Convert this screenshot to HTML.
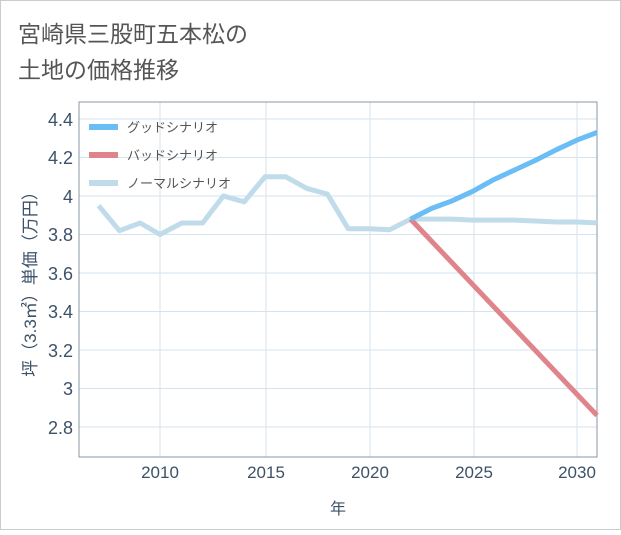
<!DOCTYPE html>
<html><head><meta charset="utf-8"><style>
body{margin:0;background:#fff;}
svg text{font-family:"Liberation Sans","Noto Sans CJK JP",sans-serif;}
</style></head><body>
<svg width="621" height="530" xmlns="http://www.w3.org/2000/svg">
<rect x="0.5" y="0.5" width="620" height="529" fill="#fff" stroke="#ccc"/>
<text x="18" y="42" font-size="23" fill="#555">宮崎県三股町五本松の</text>
<text x="18" y="78" font-size="23" fill="#555">土地の価格推移</text>
<g stroke="#d5e3ee" stroke-width="1">
<line x1="160" y1="102" x2="160" y2="457"/><line x1="266" y1="102" x2="266" y2="457"/>
<line x1="370" y1="102" x2="370" y2="457"/><line x1="474" y1="102" x2="474" y2="457"/>
<line x1="577" y1="102" x2="577" y2="457"/>
<line x1="79" y1="119" x2="597" y2="119"/><line x1="79" y1="157.5" x2="597" y2="157.5"/>
<line x1="79" y1="196" x2="597" y2="196"/><line x1="79" y1="234.5" x2="597" y2="234.5"/>
<line x1="79" y1="273" x2="597" y2="273"/><line x1="79" y1="311.5" x2="597" y2="311.5"/>
<line x1="79" y1="350" x2="597" y2="350"/><line x1="79" y1="388.5" x2="597" y2="388.5"/>
<line x1="79" y1="427" x2="597" y2="427"/>
</g>
<rect x="79" y="102" width="518" height="355" fill="none" stroke="#8a97a3"/>
<g font-size="18" fill="#3d5268" text-anchor="end">
<text x="73" y="126">4.4</text><text x="73" y="164">4.2</text><text x="73" y="203">4</text>
<text x="73" y="241">3.8</text><text x="73" y="280">3.6</text><text x="73" y="318">3.4</text>
<text x="73" y="357">3.2</text><text x="73" y="395">3</text><text x="73" y="434">2.8</text>
</g>
<g font-size="17" fill="#3d5268" text-anchor="middle">
<text x="160" y="478">2010</text><text x="266" y="478">2015</text><text x="370" y="478">2020</text>
<text x="474" y="478">2025</text><text x="577" y="478">2030</text>
<text x="338" y="514" font-size="16">年</text>
</g>
<text transform="translate(36,280) rotate(-90)" font-size="17" fill="#3d5268" text-anchor="middle">坪（3.3㎡）単価（万円）</text>
<g fill="none" stroke-width="5" stroke-linejoin="round" stroke-linecap="butt">
<polyline stroke="#c0dcea" points="98.6,205.6 119.4,230.7 140.2,223 160,234.5 181.8,223 202.6,223 223.4,196 244.2,201.8 265,176.8 285.8,176.8 306.6,188.3 327.4,194.1 348.2,228.7 369,228.7 389.8,229.7 410.6,219.1 431.4,219.1 452.2,219.1 473,220.1 493.8,220.1 514.6,220.1 535.4,221 556.2,222 577,222 597,222.9"/>
<polyline stroke="#e0848c" points="410.6,219.1 597,415.4"/>
<polyline stroke="#6bbdf5" points="410.6,219.1 431.4,208.5 452.2,200.8 473,191.2 493.8,179.6 514.6,170 535.4,160.4 556.2,149.8 577,140.1 597,132.5"/>
</g>
<g stroke-width="6">
<line x1="89" y1="127" x2="118" y2="127" stroke="#6bbdf5"/>
<line x1="89" y1="155" x2="118" y2="155" stroke="#e0848c"/>
<line x1="89" y1="183" x2="118" y2="183" stroke="#c0dcea"/>
</g>
<g font-size="13" fill="#555">
<text x="127" y="132">グッドシナリオ</text>
<text x="127" y="160">バッドシナリオ</text>
<text x="127" y="188">ノーマルシナリオ</text>
</g>
</svg>
</body></html>
